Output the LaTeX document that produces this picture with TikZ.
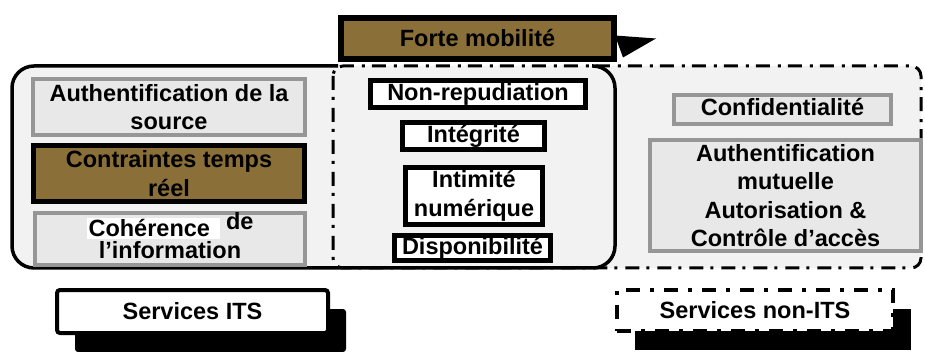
\documentclass[tikz,border=0pt]{standalone}
\usepackage{fontspec}
\setmainfont{Liberation Sans}
\usetikzlibrary{shadows,calc}
\definecolor{brownfill}{RGB}{139,111,56}
\definecolor{grayline}{RGB}{150,150,150}
\definecolor{bgfill}{RGB}{242,242,242}
\definecolor{boxfill}{RGB}{232,232,232}
\begin{document}
\begin{tikzpicture}[x=1pt,y=-1pt,
  txt/.style={font=\bfseries\fontsize{23.5}{28.5}\selectfont, align=center, inner sep=0pt},
  graybox/.style={txt, rectangle, draw=grayline, line width=4pt, fill=boxfill},
  blackbox/.style={txt, rectangle, draw=black, line width=5pt, fill=white},
  brbox/.style={txt, rectangle, draw=black, line width=5pt, fill=brownfill},
  dashdotline/.style={line width=3pt, dash pattern=on 14pt off 7pt on 3pt off 8pt},
  dashdotbox/.style={line width=4pt, dash pattern=on 14pt off 10pt on 4pt off 10pt},
  shadowed/.style={general shadow={fill=black, shadow xshift=18pt, shadow yshift=-19pt}},
  itsframe/.style={line width=3.5pt, rounded corners=22pt}
]
\useasboundingbox (0,0) rectangle (925,352);
\fill[white] (0,0) rectangle (925,352);

% frames
\fill[bgfill, rounded corners=10pt] (333,66) rectangle (921,268);
\fill[bgfill, rounded corners=22pt] (12,66) rectangle (615,268);
\draw[dashdotline, rounded corners=10pt] (333,66) rectangle (921,268);
\draw[itsframe] (338,66) -- (12,66) -- (12,268) -- (615,268) -- (615,66) -- (592,66);

% top callout
\node[brbox, line width=6pt, minimum width=273pt, minimum height=41pt] (forte) at (477.5,38.5) {Forte mobilité};
\fill ([shift={(-2,-3)}]forte.east) -- ([shift={(39,0)}]forte.east) -- ([shift={(6,19)}]forte.east) -- cycle;

% left column
\node[graybox, minimum width=272pt, minimum height=56pt] (auth) at (169,107) {Authentification de la\\source};
\node[brbox, minimum width=271pt, minimum height=56pt] (contr) at (169,173.5) {Contraintes temps\\réel};
\node[graybox, minimum width=270pt, minimum height=52pt] (coher) at (170,239) {};
\node[txt] (cohertxt) at (170,235.7) {\setlength{\fboxsep}{2pt}\colorbox{white}{Cohérence\hspace{8pt}}\hspace{6pt}\raisebox{7pt}{de}\\[-7pt]l’information};

% middle column
\node[blackbox, minimum width=215pt, minimum height=27pt] (nonrep) at (478,94) {Non-repudiation};
\node[blackbox, minimum width=142pt, minimum height=27pt] (integ) at (473.5,136) {Intégrité};
\node[blackbox, minimum width=137pt, minimum height=57pt] (intim) at (474,196) {Intimité\\numérique};
\node[blackbox, minimum width=156pt, minimum height=25pt] (dispo) at (472.5,248) {Disponibilité};

% right column
\node[graybox, minimum width=217pt, minimum height=29pt, text depth=5pt] (conf) at (782.5,109.5) {Confidentialité};
\node[graybox, minimum width=271pt, minimum height=111pt] (authm) at (785.5,195.5) {Authentification\\mutuelle\\Autorisation \&\\Contrôle d’accès};

% bottom labels
\node[txt, draw=black, line width=4pt, fill=white, rounded corners=3pt, minimum width=271pt, minimum height=43pt, shadowed] (sits) at (192.5,311.5) {Services ITS};
\node[txt, draw=black, dashdotbox, fill=white, minimum width=276pt, minimum height=41pt, shadowed] (snits) at (755,310.5) {Services non-ITS};
\end{tikzpicture}
\end{document}
